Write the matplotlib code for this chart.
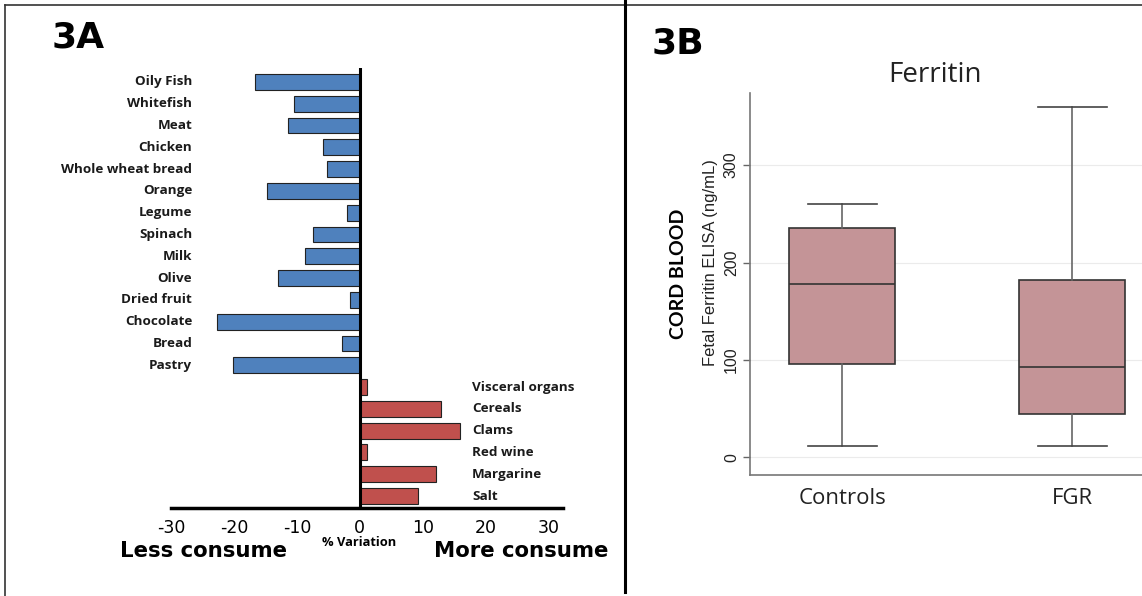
"""Two-panel figure: food consumption variation (3A) and cord blood ferritin (3B)."""
import matplotlib
matplotlib.use("Agg")
import matplotlib.pyplot as plt
from matplotlib.lines import Line2D
from matplotlib.transforms import blended_transform_factory

W, H = 1142, 596

# Panel A data: % variation in consumption
less_foods = ["Oily Fish", "Whitefish", "Meat", "Chicken", "Whole wheat bread", "Orange",
              "Legume", "Spinach", "Milk", "Olive", "Dried fruit", "Chocolate", "Bread", "Pastry"]
less_values = [-16.6, -10.5, -11.4, -5.8, -5.2, -14.8, -2.1, -7.5, -8.7, -13.0, -1.5, -22.7, -2.8, -20.2]
more_foods = ["Visceral organs", "Cereals", "Clams", "Red wine", "Margarine", "Salt"]
more_values = [1.2, 12.9, 15.9, 1.2, 12.1, 9.3]
xticks_a = [-30, -20, -10, 0, 10, 20, 30]

# Panel B data: box plot summaries (ng/mL)
groups = ["Controls", "FGR"]
whisker_low = [12, 12]
q1 = [96, 45]
median = [178, 93]
q3 = [235, 182]
whisker_high = [260, 360]
yticks_b = [0, 100, 200, 300]

BLUE = "#4f81bd"
RED = "#c0504d"
BOX = "#c49497"
LABEL_FONT = "Open Sans"


def px_axes(fig, left, top, right, bottom):
    """Add axes from pixel edges (origin at top-left)."""
    return fig.add_axes([left / W, 1 - bottom / H, (right - left) / W, (bottom - top) / H])


fig = plt.figure(figsize=(W / 100, H / 100), dpi=100)

# ---- Panel A ----
ax = px_axes(fig, 171, 68, 563, 508)
labels = less_foods + more_foods
values = less_values + more_values
colors = [BLUE] * len(less_values) + [RED] * len(more_values)
ypos = list(range(len(values)))
ax.barh(ypos, values, height=0.73, color=colors, edgecolor="#222222", linewidth=0.8, zorder=2)
ax.axvline(0, color="black", linewidth=2.2, zorder=3)
ax.set_xlim(-30, 32.3)
ax.set_ylim(len(values) - 0.45, -0.64)
for s in ["top", "right", "left"]:
    ax.spines[s].set_visible(False)
ax.spines["bottom"].set_linewidth(2.5)
ax.set_yticks([])
ax.set_xticks(xticks_a)
ax.set_xticklabels([str(t) for t in xticks_a], family="DejaVu Sans", fontsize=12.5)
ax.tick_params(axis="x", length=0, pad=8)

trans = blended_transform_factory(ax.transAxes, ax.transData)
for i, (lab, v) in enumerate(zip(labels, values)):
    if v < 0:
        ax.text(0.054, i, lab, transform=trans, ha="right", va="center",
                family=LABEL_FONT, fontweight="bold", fontsize=9.7, color="#1a1a1a")
    else:
        ax.text(0.768, i, lab, transform=trans, ha="left", va="center",
                family=LABEL_FONT, fontweight="bold", fontsize=9.7, color="#1a1a1a")

fig.text(359 / W, 1 - 543 / H, "% Variation", ha="center", va="center",
         family=LABEL_FONT, fontweight="bold", fontsize=9.3)
fig.text(204 / W, 1 - 551 / H, "Less consume", ha="center", va="center",
         family="DejaVu Sans", fontweight="bold", fontsize=15.3)
fig.text(521 / W, 1 - 551 / H, "More consume", ha="center", va="center",
         family="DejaVu Sans", fontweight="bold", fontsize=15.3)
fig.text(52 / W, 1 - 48 / H, "3A", ha="left", va="baseline",
         family="DejaVu Sans", fontweight="bold", fontsize=26)

# ---- Panel B ----
bx = px_axes(fig, 750, 93, 1142, 475)
stats = [dict(label=g, whislo=lo, q1=a, med=m, q3=b, whishi=hi)
         for g, lo, a, m, b, hi in zip(groups, whisker_low, q1, median, q3, whisker_high)]
bx.bxp(stats, positions=[1, 2], widths=0.46, showfliers=False, patch_artist=True,
       boxprops=dict(facecolor=BOX, edgecolor="#333333", linewidth=1.2),
       medianprops=dict(color="#333333", linewidth=1.2),
       whiskerprops=dict(color="#666666", linewidth=1.2),
       capprops=dict(color="#444444", linewidth=1.2), capwidths=0.3)
bx.set_xlim(0.6, 2.304)
bx.set_ylim(-18, 374)
bx.set_yticks(yticks_b)
bx.set_yticklabels([str(t) for t in yticks_b], rotation=90, va="center",
                   family="Liberation Sans", fontsize=11.5, color="#222222")
bx.tick_params(axis="y", length=5, width=1, color="#666666", pad=3)
bx.set_xticks([1, 2])
bx.set_xticklabels(groups, family="Open Sans", fontsize=16, color="#222222")
bx.tick_params(axis="x", length=0, pad=9)
bx.grid(axis="y", color="#ebebeb", linewidth=0.8)
bx.set_axisbelow(True)
for s in ["top", "right"]:
    bx.spines[s].set_visible(False)
for s in ["left", "bottom"]:
    bx.spines[s].set_color("#777777")
    bx.spines[s].set_linewidth(1.2)

fig.text(935 / W, 1 - 75 / H, "Ferritin", ha="center", va="center",
         family="Open Sans", fontsize=20, color="#222222")
fig.text(711 / W, 1 - 263 / H, "Fetal Ferritin ELISA (ng/mL)", ha="center", va="center",
         rotation=90, family="Liberation Sans", fontsize=12, color="#222222")
fig.text(678 / W, 1 - 274 / H, "CORD BLOOD", ha="center", va="center",
         rotation=90, family="Lato", fontweight="bold", fontsize=14)
fig.text(652 / W, 1 - 53 / H, "3B", ha="left", va="baseline",
         family="DejaVu Sans", fontweight="bold", fontsize=26)

# ---- Frame lines ----
def frame_line(x0, y0, x1, y1, lw, color):
    fig.add_artist(Line2D([x0 / W, x1 / W], [1 - y0 / H, 1 - y1 / H],
                          transform=fig.transFigure, color=color, linewidth=lw))

frame_line(5, 5, W, 5, 1.2, "#333333")
frame_line(5, 5, 5, H, 1.2, "#333333")
frame_line(624.5, 0, 624.5, 592, 2.2, "black")

fig.savefig("out.png", dpi=100)
